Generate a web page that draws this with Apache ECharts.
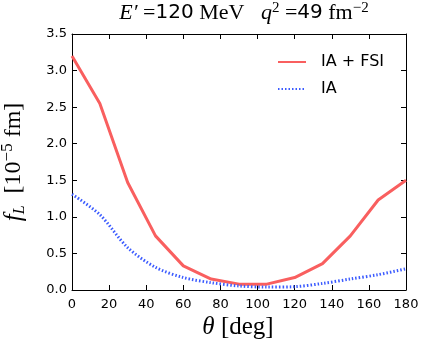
<!DOCTYPE html>
<html><head><meta charset="utf-8">
<script src="https://cdn.jsdelivr.net/npm/echarts@6/dist/echarts.min.js"></script>
<style>html,body{margin:0;padding:0;background:#fff}#c{width:422px;height:340px}</style>
</head><body><div id="c"></div>
<script>
var theta = [0, 15, 30, 45, 60, 75, 90, 105, 120, 135, 150, 165, 180];
var iaFsi = [3.20, 2.55, 1.47, 0.74, 0.33, 0.15, 0.08, 0.08, 0.17, 0.36, 0.74, 1.23, 1.50];
var ia = [1.31, 1.03, 0.58, 0.31, 0.17, 0.10, 0.055, 0.04, 0.045, 0.09, 0.15, 0.21, 0.29];
var xTicks = [0, 20, 40, 60, 80, 100, 120, 140, 160, 180];
var yTicks = [0.0, 0.5, 1.0, 1.5, 2.0, 2.5, 3.0, 3.5];

var chart = echarts.init(document.getElementById('c'), null, {renderer: 'canvas'});
var sans = 'DejaVu Sans';
var serif = 'Liberation Serif';
function mkX(pos, show) {
  return {
    type: 'value', position: pos, min: 0, max: 180, interval: 20,
    axisLine: {show: true, onZero: false, lineStyle: {color: '#000', width: 1}},
    axisTick: {show: true, inside: true, length: 5, lineStyle: {color: '#000'}},
    axisLabel: {show: show, color: '#000', fontFamily: sans, fontSize: 13, margin: 8,
      formatter: function (v) { return xTicks.indexOf(v) >= 0 ? String(v) : ''; }},
    splitLine: {show: false}
  };
}
function mkY(pos, show) {
  return {
    type: 'value', position: pos, min: 0, max: 3.5, interval: 0.5,
    axisLine: {show: true, onZero: false, lineStyle: {color: '#000', width: 1}},
    axisTick: {show: true, inside: true, length: 5, lineStyle: {color: '#000'}},
    axisLabel: {show: show, color: '#000', fontFamily: sans, fontSize: 13, margin: 5,
      formatter: function (v) { var s = v.toFixed(1); return yTicks.map(function(t){return t.toFixed(1);}).indexOf(s) >= 0 ? s : ''; }},
    splitLine: {show: false}
  };
}
chart.setOption({
  animation: false,
  backgroundColor: '#fff',
  grid: {left: 72, right: 16, top: 34, bottom: 50, containLabel: false},
  xAxis: [mkX('bottom', true), mkX('top', false)],
  yAxis: [mkY('left', true), mkY('right', false)],
  legend: {
    orient: 'vertical', left: 272, top: 49, itemWidth: 28, itemHeight: 14, itemGap: 11,
    itemStyle: {opacity: 0},
    textStyle: {fontFamily: sans, fontSize: 16, color: '#000', padding: [0, 0, 0, 10]},
    data: ['IA + FSI', 'IA']
  },
  series: [
    {name: 'IA + FSI', type: 'line', symbol: 'none', xAxisIndex: 0, yAxisIndex: 0,
     data: theta.map(function (t, i) { return [t, iaFsi[i]]; }),
     lineStyle: {color: '#f95f5f', width: 3}, itemStyle: {color: '#f95f5f'}},
    {name: 'IA', type: 'line', symbol: 'none', xAxisIndex: 0, yAxisIndex: 0, smooth: 0.3,
     data: theta.map(function (t, i) { return [t, ia[i]]; }),
     lineStyle: {color: '#3b5bff', width: 3, type: [1.5, 2]}, itemStyle: {color: '#3b5bff'}}
  ],
  graphic: [
    {type: 'text', x: 244, y: 13, style: {
      text: '{it|E′}{n|\u00a0=}{s|120}{n|\u00a0MeV\u00a0\u00a0\u00a0}{it|q}{sup|2}{n|\u00a0=}{s|49}{n|\u00a0fm}{sup|−2}',
      align: 'center', verticalAlign: 'middle',
      rich: {
        it: {fontFamily: serif, fontStyle: 'italic', fontSize: 22, fill: '#000'},
        n: {fontFamily: serif, fontSize: 22, fill: '#000'},
        s: {fontFamily: sans, fontSize: 20, fill: '#000'},
        sup: {fontFamily: serif, fontSize: 15, fill: '#000', padding: [0, 0, 10, 0]}
      }}},
    {type: 'text', x: 14, y: 162, rotation: Math.PI / 2, style: {
      text: '{it|f}{sub|L}{n|\u00a0\u00a0[10}{sup|−5}{n|\u00a0fm]}', align: 'center', verticalAlign: 'middle',
      rich: {
        it: {fontFamily: serif, fontStyle: 'italic', fontSize: 25, fill: '#000'},
        n: {fontFamily: serif, fontSize: 24, fill: '#000'},
        sub: {fontFamily: serif, fontStyle: 'italic', fontSize: 16, fill: '#000', padding: [12, 0, 0, 0]},
        sup: {fontFamily: serif, fontSize: 17, fill: '#000', padding: [0, 0, 12, 0]}
      }}},
    {type: 'text', x: 238, y: 327, style: {
      text: '{it|θ}{n|\u00a0[deg]}', align: 'center', verticalAlign: 'middle',
      rich: {
        it: {fontFamily: serif, fontStyle: 'italic', fontSize: 25, fill: '#000'},
        n: {fontFamily: serif, fontSize: 25, fill: '#000'}
      }}}
  ]
});
</script></body></html>
